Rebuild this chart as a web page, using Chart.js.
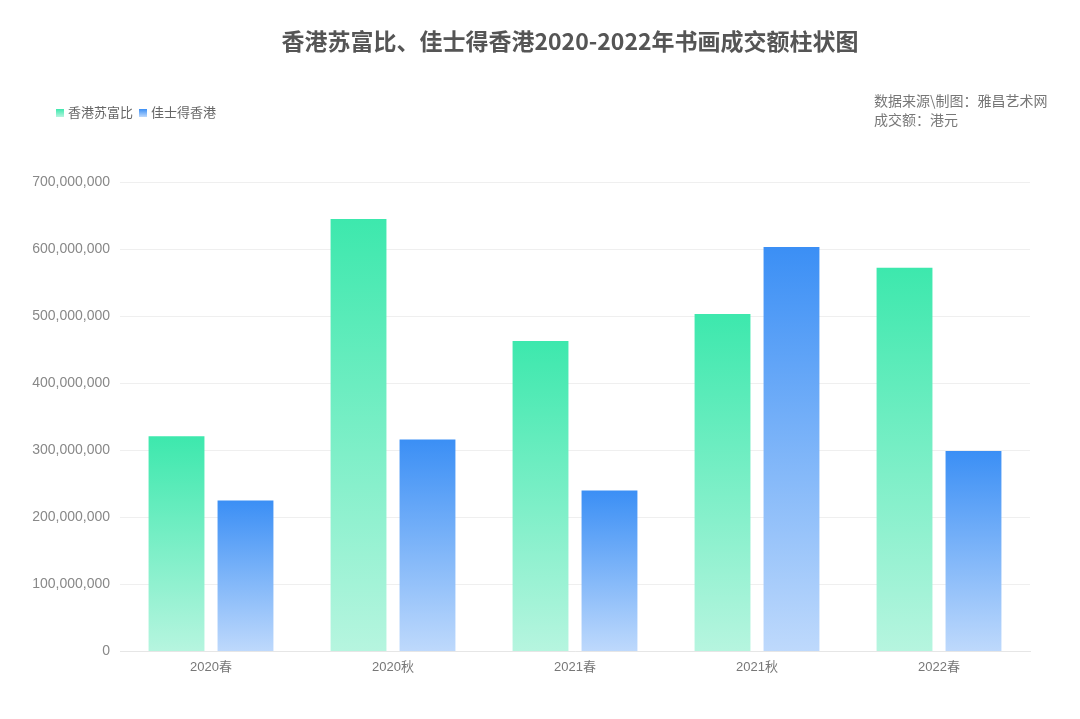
<!DOCTYPE html>
<html>
<head>
<meta charset="utf-8">
<script src="https://cdn.jsdelivr.net/npm/chart.js@4/dist/chart.umd.min.js"></script>
<style>
  html, body { margin: 0; padding: 0; background: #fff; }
  #wrap { position: relative; width: 1080px; height: 719px; overflow: hidden; font-family: "Noto Sans CJK SC", sans-serif; }
  #title { position: absolute; left: 115px; width: 910px; top: 24px; text-align: center; font-size: 23px; font-weight: bold; color: #555; line-height: 32px; }
  #legend { position: absolute; left: 56px; top: 103px; font-size: 13px; color: #666; line-height: 18px; white-space: nowrap; }
  #legend span.box { display: inline-block; width: 8px; height: 8px; margin-right: 4px; vertical-align: 0px; }
  #legend span.item { margin-right: 6px; }
  #note { position: absolute; left: 874px; top: 91px; font-size: 14px; color: #777; line-height: 19px; white-space: nowrap; }
  canvas { position: absolute; left: 0; top: 0; }
</style>
</head>
<body>
<div id="wrap">
  <canvas id="c" width="1080" height="719"></canvas>
  <div id="title">香港苏富比、佳士得香港2020-2022年书画成交额柱状图</div>
  <div id="legend"></div>
  <div id="note">数据来源\制图：雅昌艺术网<br>成交额：港元</div>
</div>
<script>
const categories = ['2020春', '2020秋', '2021春', '2021秋', '2022春'];
const seriesNames = ['香港苏富比', '佳士得香港'];
const sothebysValues = [321000000, 645000000, 463000000, 503000000, 572000000];
const christiesValues = [225000000, 316000000, 240000000, 603000000, 299000000];
const yTicks = [0, 100000000, 200000000, 300000000, 400000000, 500000000, 600000000, 700000000];

const palettes = [
  { top: '#3de8ad', bottom: '#b6f5df' },
  { top: '#3b8ff5', bottom: '#bed9fc' }
];

function gradientFor(idx) {
  return function (ctx) {
    const chart = ctx.chart;
    const p = palettes[idx];
    if (!chart.chartArea || ctx.type !== 'data') return p.top;
    const ys = chart.scales.y;
    const y0 = ys.getPixelForValue(ctx.raw);
    const y1 = ys.getPixelForValue(0);
    if (!isFinite(y0) || !isFinite(y1) || y0 === y1) return p.top;
    const g = chart.ctx.createLinearGradient(0, y0, 0, y1);
    g.addColorStop(0, p.top);
    g.addColorStop(1, p.bottom);
    return g;
  };
}

// HTML legend
const legendEl = document.getElementById('legend');
seriesNames.forEach((n, i) => {
  const item = document.createElement('span');
  item.className = 'item';
  const b = document.createElement('span');
  b.className = 'box';
  b.style.background = 'linear-gradient(' + palettes[i].top + ',' + palettes[i].bottom + ')';
  item.appendChild(b);
  item.appendChild(document.createTextNode(n));
  legendEl.appendChild(item);
});

new Chart(document.getElementById('c'), {
  type: 'bar',
  data: {
    labels: categories,
    datasets: [
      { label: seriesNames[0], data: sothebysValues, backgroundColor: gradientFor(0), borderWidth: 0 },
      { label: seriesNames[1], data: christiesValues, backgroundColor: gradientFor(1), borderWidth: 0 }
    ]
  },
  options: {
    responsive: false,
    animation: false,
    devicePixelRatio: 1,
    layout: { padding: { top: 182, right: 50, bottom: 36, left: 0 } },
    categoryPercentage: 0.758,
    barPercentage: 0.81,
    plugins: {
      legend: { display: false },
      title: { display: false },
      tooltip: { enabled: false }
    },
    scales: {
      x: {
        grid: { display: false, drawTicks: false },
        border: { display: true, color: '#e6e6e6' },
        ticks: { color: '#777', padding: 8, font: { size: 13, family: '"Liberation Sans", "Noto Sans CJK SC", sans-serif' } }
      },
      y: {
        min: 0,
        max: 700000000,
        afterBuildTicks: (axis) => { axis.ticks = yTicks.map(v => ({ value: v })); },
        afterFit: (axis) => { axis.width = 120; },
        grid: { color: '#efefef', drawTicks: false },
        border: { display: false },
        ticks: {
          color: '#888',
          padding: 10,
          font: { size: 14, family: '"Liberation Sans", "Noto Sans CJK SC", sans-serif' },
          callback: (v) => Number(v).toLocaleString('en-US')
        }
      }
    }
  }
});
</script>
</body>
</html>
